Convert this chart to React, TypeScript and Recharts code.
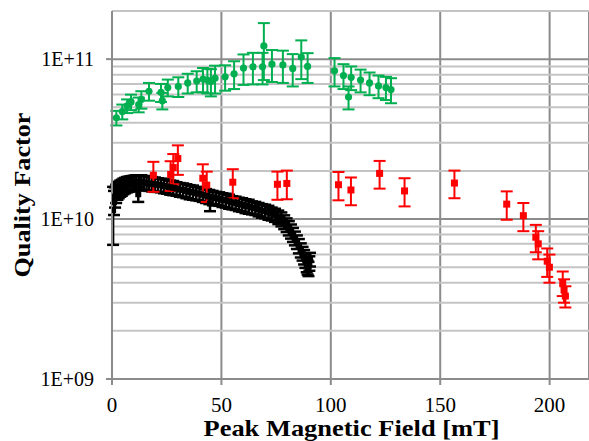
import React from 'react';
import { ScatterChart, Scatter, XAxis, YAxis, ErrorBar, ReferenceLine, CartesianGrid } from 'recharts';

const xTicks = [0, 50, 100, 150, 200];
const yTicks = [1e9, 1e10, 1e11];
const minorValues = [2e9, 3e9, 4e9, 5e9, 6e9, 7e9, 8e9, 9e9, 2e10, 3e10, 4e10, 5e10, 6e10, 7e10, 8e10, 9e10, 2e11];

const greenX = [2.0, 4.7, 6.9, 8.7, 12.2, 13.4, 16.9, 22.4, 23.0, 25.5, 30.3, 34.6, 38.7, 41.6, 43.6, 45.2, 47.1, 51.7, 55.8, 60.1, 64.4, 68.8, 69.4, 73.1, 78.1, 82.6, 86.5, 89.4, 101.7, 105.8, 108.1, 109.3, 113.6, 117.7, 121.8, 125.2, 127.5];
const greenQ = [4.3e10, 4.7e10, 5.1e10, 5.4e10, 5.2e10, 5.6e10, 6.3e10, 6.2e10, 5.5e10, 6.65e10, 6.75e10, 7.1e10, 7.3e10, 7.5e10, 7.4e10, 7.25e10, 7.6e10, 7.75e10, 8.1e10, 8.8e10, 8.95e10, 8.95e10, 1.21e11, 9.3e10, 9.2e10, 8.75e10, 1.03e11, 9.0e10, 8.45e10, 7.9e10, 5.8e10, 7.7e10, 7.4e10, 7.1e10, 6.8e10, 6.65e10, 6.45e10];
const greenErr = [0.45e10, 0.5e10, 0.5e10, 0.6e10, 0.55e10, 0.7e10, 0.8e10, 0.8e10, 0.65e10, 0.8e10, 0.95e10, 1.0e10, 1.1e10, 1.3e10, 1.3e10, 1.4e10, 1.5e10, 1.4e10, 1.6e10, 1.9e10, 2.0e10, 2.0e10, 4.7e10, 2.1e10, 2.1e10, 2.0e10, 2.8e10, 1.9e10, 1.7e10, 1.4e10, 0.95e10, 1.3e10, 1.2e10, 1.15e10, 1.1e10, 1.1e10, 1.15e10];

const redX = [18.9, 26.8, 28.0, 30.1, 41.5, 43.3, 55.2, 75.6, 79.9, 103.5, 109.2, 122.3, 133.7, 156.5, 180.4, 188.0, 193.7, 194.8, 198.9, 199.9, 206.0, 206.6, 207.2];
const redQ = [1.88e10, 1.9e10, 2.1e10, 2.39e10, 1.8e10, 1.63e10, 1.7e10, 1.65e10, 1.67e10, 1.64e10, 1.52e10, 1.93e10, 1.5e10, 1.68e10, 1.24e10, 1.05e10, 7.7e9, 7.0e9, 5.45e9, 5.0e9, 4.0e9, 3.6e9, 3.3e9];
const redErr = [0.4e10, 0.4e10, 0.45e10, 0.5e10, 0.4e10, 0.35e10, 0.35e10, 0.33e10, 0.34e10, 0.33e10, 0.3e10, 0.38e10, 0.3e10, 0.33e10, 0.25e10, 0.21e10, 1.5e9, 1.4e9, 1.1e9, 1.0e9, 0.7e9, 0.6e9, 0.5e9];

const blackX = [0.5, 0.9, 1.4, 1.9, 2.5, 3.1, 3.8, 4.5, 5.2, 6.0, 6.8, 7.6, 8.5, 9.4, 10.3, 11.2, 12.0, 12.3, 13.4, 14.6, 15.8, 17.0, 18.3, 19.6, 21.0, 22.4, 23.8, 25.2, 26.6, 28.0, 29.5, 31.0, 32.5, 34.0, 35.5, 37.0, 38.5, 40.0, 41.5, 43.0, 44.5, 44.8, 46.0, 47.5, 49.0, 50.5, 52.0, 53.5, 55.0, 56.5, 58.0, 59.5, 61.0, 62.5, 64.0, 65.5, 67.0, 68.5, 70.0, 71.5, 73.0, 74.5, 76.0, 77.4, 78.7, 79.8, 80.8, 81.8, 82.7, 83.6, 84.5, 85.4, 86.3, 87.1, 87.8, 88.4, 89.0, 89.4, 89.8, 90.2, 90.5];
const blackQ = [1.14e10, 1.28e10, 1.38e10, 1.45e10, 1.5e10, 1.53e10, 1.56e10, 1.58e10, 1.61e10, 1.63e10, 1.65e10, 1.66e10, 1.67e10, 1.68e10, 1.69e10, 1.7e10, 1.43e10, 1.7e10, 1.7e10, 1.69e10, 1.68e10, 1.67e10, 1.66e10, 1.65e10, 1.64e10, 1.63e10, 1.61e10, 1.6e10, 1.58e10, 1.57e10, 1.55e10, 1.53e10, 1.52e10, 1.5e10, 1.48e10, 1.47e10, 1.45e10, 1.44e10, 1.42e10, 1.4e10, 1.38e10, 1.25e10, 1.37e10, 1.35e10, 1.34e10, 1.32e10, 1.31e10, 1.29e10, 1.27e10, 1.26e10, 1.24e10, 1.23e10, 1.21e10, 1.2e10, 1.18e10, 1.17e10, 1.15e10, 1.13e10, 1.12e10, 1.1e10, 1.08e10, 1.06e10, 1.03e10, 1.0e10, 9.6e9, 9.2e9, 8.8e9, 8.4e9, 8.0e9, 7.6e9, 7.2e9, 6.8e9, 6.4e9, 6.1e9, 5.8e9, 5.5e9, 5.2e9, 5.0e9, 4.9e9, 5.3e9, 5.6e9];
const blackErr = [4.5e9, 2.2e9, 2.0e9, 1.9e9, 1.8e9, 1.8e9, 1.8e9, 1.8e9, 1.8e9, 1.8e9, 1.8e9, 1.8e9, 1.8e9, 1.8e9, 1.8e9, 1.8e9, 1.5e9, 1.8e9, 1.8e9, 1.7e9, 1.7e9, 1.7e9, 1.7e9, 1.7e9, 1.6e9, 1.6e9, 1.6e9, 1.6e9, 1.6e9, 1.6e9, 1.5e9, 1.5e9, 1.5e9, 1.5e9, 1.5e9, 1.5e9, 1.4e9, 1.4e9, 1.4e9, 1.4e9, 1.4e9, 1.3e9, 1.3e9, 1.3e9, 1.3e9, 1.3e9, 1.3e9, 1.3e9, 1.2e9, 1.2e9, 1.2e9, 1.2e9, 1.2e9, 1.2e9, 1.1e9, 1.1e9, 1.1e9, 1.1e9, 1.1e9, 1.1e9, 1.0e9, 1.0e9, 1.0e9, 1.0e9, 0.95e9, 0.9e9, 0.9e9, 0.85e9, 0.8e9, 0.75e9, 0.7e9, 0.7e9, 0.65e9, 0.6e9, 0.6e9, 0.55e9, 0.55e9, 0.5e9, 0.5e9, 0.55e9, 0.55e9];

const build = (xs: number[], ys: number[], es: number[]) => xs.map((x, i) => ({ x, y: ys[i], e: es[i] }));
const greenData = build(greenX, greenQ, greenErr);
const redData = build(redX, redQ, redErr);
const blackData = build(blackX, blackQ, blackErr);

const GREEN = '#00b050';
const RED = '#ff0000';
const BLACK = '#000000';
const MAJOR = '#8c8c8c';
const MINOR = '#c4c4c4';
const SERIF = 'Liberation Serif, DejaVu Serif, serif';

const GreenDot = (p: any) => <circle cx={p.cx} cy={p.cy} r={3.6} fill={GREEN} />;
const RedSq = (p: any) => <rect x={p.cx - 3.5} y={p.cy - 3.5} width={7} height={7} fill={RED} />;
const BlackSq = (p: any) => <rect x={p.cx - 3} y={p.cy - 3} width={6} height={6} fill={BLACK} />;

const fmt = (v: number) => {
  const p = Math.round(Math.log10(v));
  return '1E+' + String(p).padStart(2, '0');
};

const XTitle = (props: any) => {
  const vb = props.viewBox || { x: 112, y: 379, width: 477, height: 62 };
  return (
    <text x={vb.x + vb.width / 2 + 1} y={436} textAnchor="middle" textLength={296} lengthAdjust="spacingAndGlyphs" style={{ fontFamily: SERIF, fontWeight: 'bold', fontSize: 24 }} fill="#000">
      Peak Magnetic Field [mT]
    </text>
  );
};

const YTitle = (props: any) => {
  const vb = props.viewBox || { x: 0, y: 11, width: 112, height: 368 };
  const cy = vb.y + vb.height / 2;
  return (
    <text x={30} y={cy} transform={`rotate(-90, 30, ${cy})`} textAnchor="middle" textLength={165} lengthAdjust="spacingAndGlyphs" style={{ fontFamily: SERIF, fontWeight: 'bold', fontSize: 24 }} fill="#000">
      Quality Factor
    </text>
  );
};

const XTick = (p: any) => (
  <text x={p.x} y={p.y} dy="0.71em" textAnchor="middle" style={{ fontFamily: SERIF, fontSize: 21 }} fill="#000">
    {p.payload.value}
  </text>
);

const YTick = (p: any) => (
  <text x={p.x} y={p.y} dy="0.355em" textAnchor="end" style={{ fontFamily: SERIF, fontSize: 20 }} fill="#000">
    {fmt(p.payload.value)}
  </text>
);

export default function App() {
  return (
    <div style={{ position: 'absolute', left: 0, top: 0, width: 589, height: 441, background: '#fff', fontFamily: SERIF }}>
      <ScatterChart width={589} height={441} margin={{ top: 11, right: 0, bottom: 0, left: 0 }}>
        <CartesianGrid horizontal={false} vertical={true} stroke={MAJOR} strokeWidth={2} />
        {minorValues.map((v) => (
          <ReferenceLine key={'m' + v} y={v} stroke={MINOR} strokeWidth={2} ifOverflow="visible" />
        ))}
        {yTicks.map((v) => (
          <ReferenceLine key={'M' + v} y={v} stroke={MAJOR} strokeWidth={2} ifOverflow="visible" />
        ))}
        <XAxis
          type="number"
          dataKey="x"
          domain={[0, 218]}
          ticks={xTicks}
          allowDataOverflow
          height={62}
          tickSize={6}
          tickMargin={12}
          axisLine={{ stroke: MAJOR, strokeWidth: 2 }}
          tickLine={{ stroke: MAJOR, strokeWidth: 2 }}
          tick={<XTick />}
          label={<XTitle />}
        />
        <YAxis
          type="number"
          dataKey="y"
          scale="log"
          domain={[1e9, 2e11]}
          ticks={yTicks}
          allowDataOverflow
          width={112}
          tickSize={6}
          tickMargin={12}
          axisLine={{ stroke: MAJOR, strokeWidth: 2 }}
          tickLine={{ stroke: MAJOR, strokeWidth: 2 }}
          tick={<YTick />}
          label={<YTitle />}
        />
        <Scatter data={greenData} shape={GreenDot} isAnimationActive={false}>
          <ErrorBar dataKey="e" direction="y" width={6} stroke={GREEN} strokeWidth={2} isAnimationActive={false} />
        </Scatter>
        <Scatter data={blackData} shape={BlackSq} isAnimationActive={false}>
          <ErrorBar dataKey="e" direction="y" width={6} stroke={BLACK} strokeWidth={2.5} isAnimationActive={false} />
        </Scatter>
        <Scatter data={redData} shape={RedSq} isAnimationActive={false}>
          <ErrorBar dataKey="e" direction="y" width={6} stroke={RED} strokeWidth={2} isAnimationActive={false} />
        </Scatter>
      </ScatterChart>
    </div>
  );
}
